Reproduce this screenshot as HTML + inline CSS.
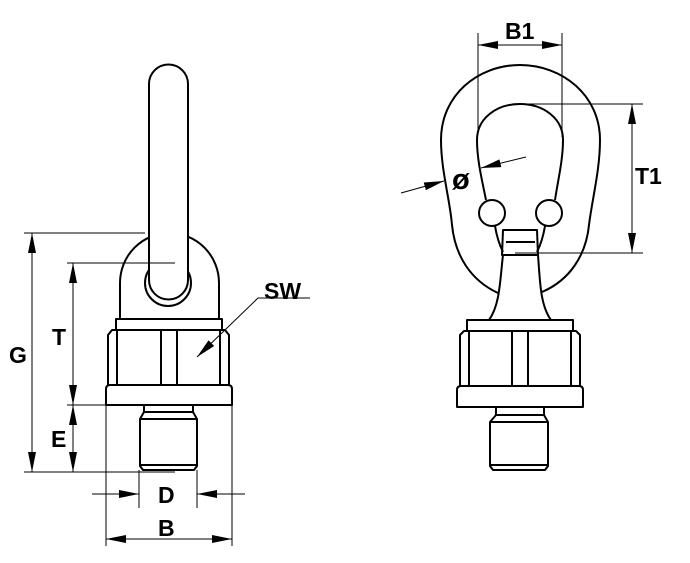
<!DOCTYPE html>
<html><head><meta charset="utf-8"><style>
html,body{margin:0;padding:0;background:#fff;width:690px;height:563px;overflow:hidden}
svg{display:block}
text{font-family:"Liberation Sans",Arial,sans-serif;font-weight:bold;fill:#000}
</style></head><body>
<svg width="690" height="563" viewBox="0 0 690 563" xmlns="http://www.w3.org/2000/svg">
<defs>
<marker id="a" viewBox="0 0 20 8" refX="20" refY="4" markerWidth="20" markerHeight="8" markerUnits="userSpaceOnUse" orient="auto-start-reverse"><path d="M0,0 L20,4 L0,8 Z" fill="#000"/></marker>
</defs>
<g fill="none" stroke="#000" stroke-width="2" stroke-linejoin="round">
<path d="M120,320 L120,283 A49.5,50 0 0 1 219,283 L219,320"/>
<circle cx="168" cy="283" r="23"/>
<path d="M149,84 A19.5,19.5 0 0 1 188,84 L188,280 A19.5,19.5 0 0 1 149,280 Z" fill="#fff"/>
<rect x="116" y="319" width="106" height="11"/>
<path d="M108,385 L108,335 L112,330 L225,330 L229,335 L229,385"/>
<path d="M117,330V385M161,330V385M177,330V385M220,330V385"/>
<path d="M110,385 H228 Q232,385 232,389 V405 H106 V389 Q106,385 110,385 Z"/>
<rect x="144" y="405" width="49" height="7"/>
<path d="M144,412 L140,419 L140,466 L143,470 L194,470 L197,466 L197,419 L193,412"/>
<path d="M140,419H197M141,465H196"/>
<path d="M498,293 C470,280 455,255 452,225 C450,200 441,170 441,140 C441,95 478,65 520,65 C562,65 600,95 600,140 C600,170 592,200 589,225 C586,255 570,280 542,292"/>
<path d="M486,200 C482,180 477,160 477,140 C477,118 497,104 520,104 C543,104 563,118 563,140 C563,160 558,180 555,200"/>
<path d="M495,226 C497,238 500,246 503,252 M545,226 C543,238 540,246 537,252"/>
<circle cx="492" cy="213" r="13" fill="#fff"/>
<circle cx="549" cy="213" r="13" fill="#fff"/>
<path d="M503,230 L537,230 L538,255 L502,255 Z"/>
<path d="M506,242H535"/>
<path d="M503,255 C500,280 500,305 489,320 M538,255 C540,280 540,305 551,320"/>
<rect x="467" y="320" width="106" height="11"/>
<path d="M460,386 L460,335 L464,331 L576,331 L580,335 L580,386"/>
<path d="M469,331V386M512,331V386M528,331V386M571,331V386"/>
<path d="M461,386 H579 Q583,386 583,390 V407 H457 V390 Q457,386 461,386 Z"/>
<rect x="496" y="407" width="48" height="8"/>
<path d="M496,415 L490,422 L490,466 L493,470 L545,470 L548,466 L548,422 L544,415"/>
<path d="M490,422H548M491,465H547"/>
</g>
<g fill="none" stroke="#000" stroke-width="1">
<path d="M24,233H145M24,472H175M67,263H175M67,405H106"/>
<path d="M106,405V546M232,405V546M139,470V508M197,470V508"/>
<path d="M32,233V472" marker-start="url(#a)" marker-end="url(#a)"/>
<path d="M73,263V405" marker-start="url(#a)" marker-end="url(#a)"/>
<path d="M73,405V472" marker-start="url(#a)" marker-end="url(#a)"/>
<path d="M106,539H232" marker-start="url(#a)" marker-end="url(#a)"/>
<path d="M92,494H139" marker-end="url(#a)"/>
<path d="M245,494H197" marker-end="url(#a)"/>
<path d="M310,298H258L197,357" marker-end="url(#a)"/>
<path d="M478,33V133M562,33V137"/>
<path d="M478,45H562" marker-start="url(#a)" marker-end="url(#a)"/>
<path d="M520,104H643M515,253H643"/>
<path d="M632,104V253" marker-start="url(#a)" marker-end="url(#a)"/>
<path d="M401,193L444,181" marker-end="url(#a)"/>
<path d="M526,157L481,168" marker-end="url(#a)"/>
</g>
<g font-size="23">
<text x="9" y="363">G</text>
<text x="52" y="345">T</text>
<text x="51" y="447">E</text>
<text x="158" y="503">D</text>
<text x="158" y="536">B</text>
<text x="264" y="299">SW</text>
<text x="505" y="39">B1</text>
<text x="635" y="184">T1</text>
<text x="452" y="189" font-size="29">ø</text>
</g>
</svg>
</body></html>
